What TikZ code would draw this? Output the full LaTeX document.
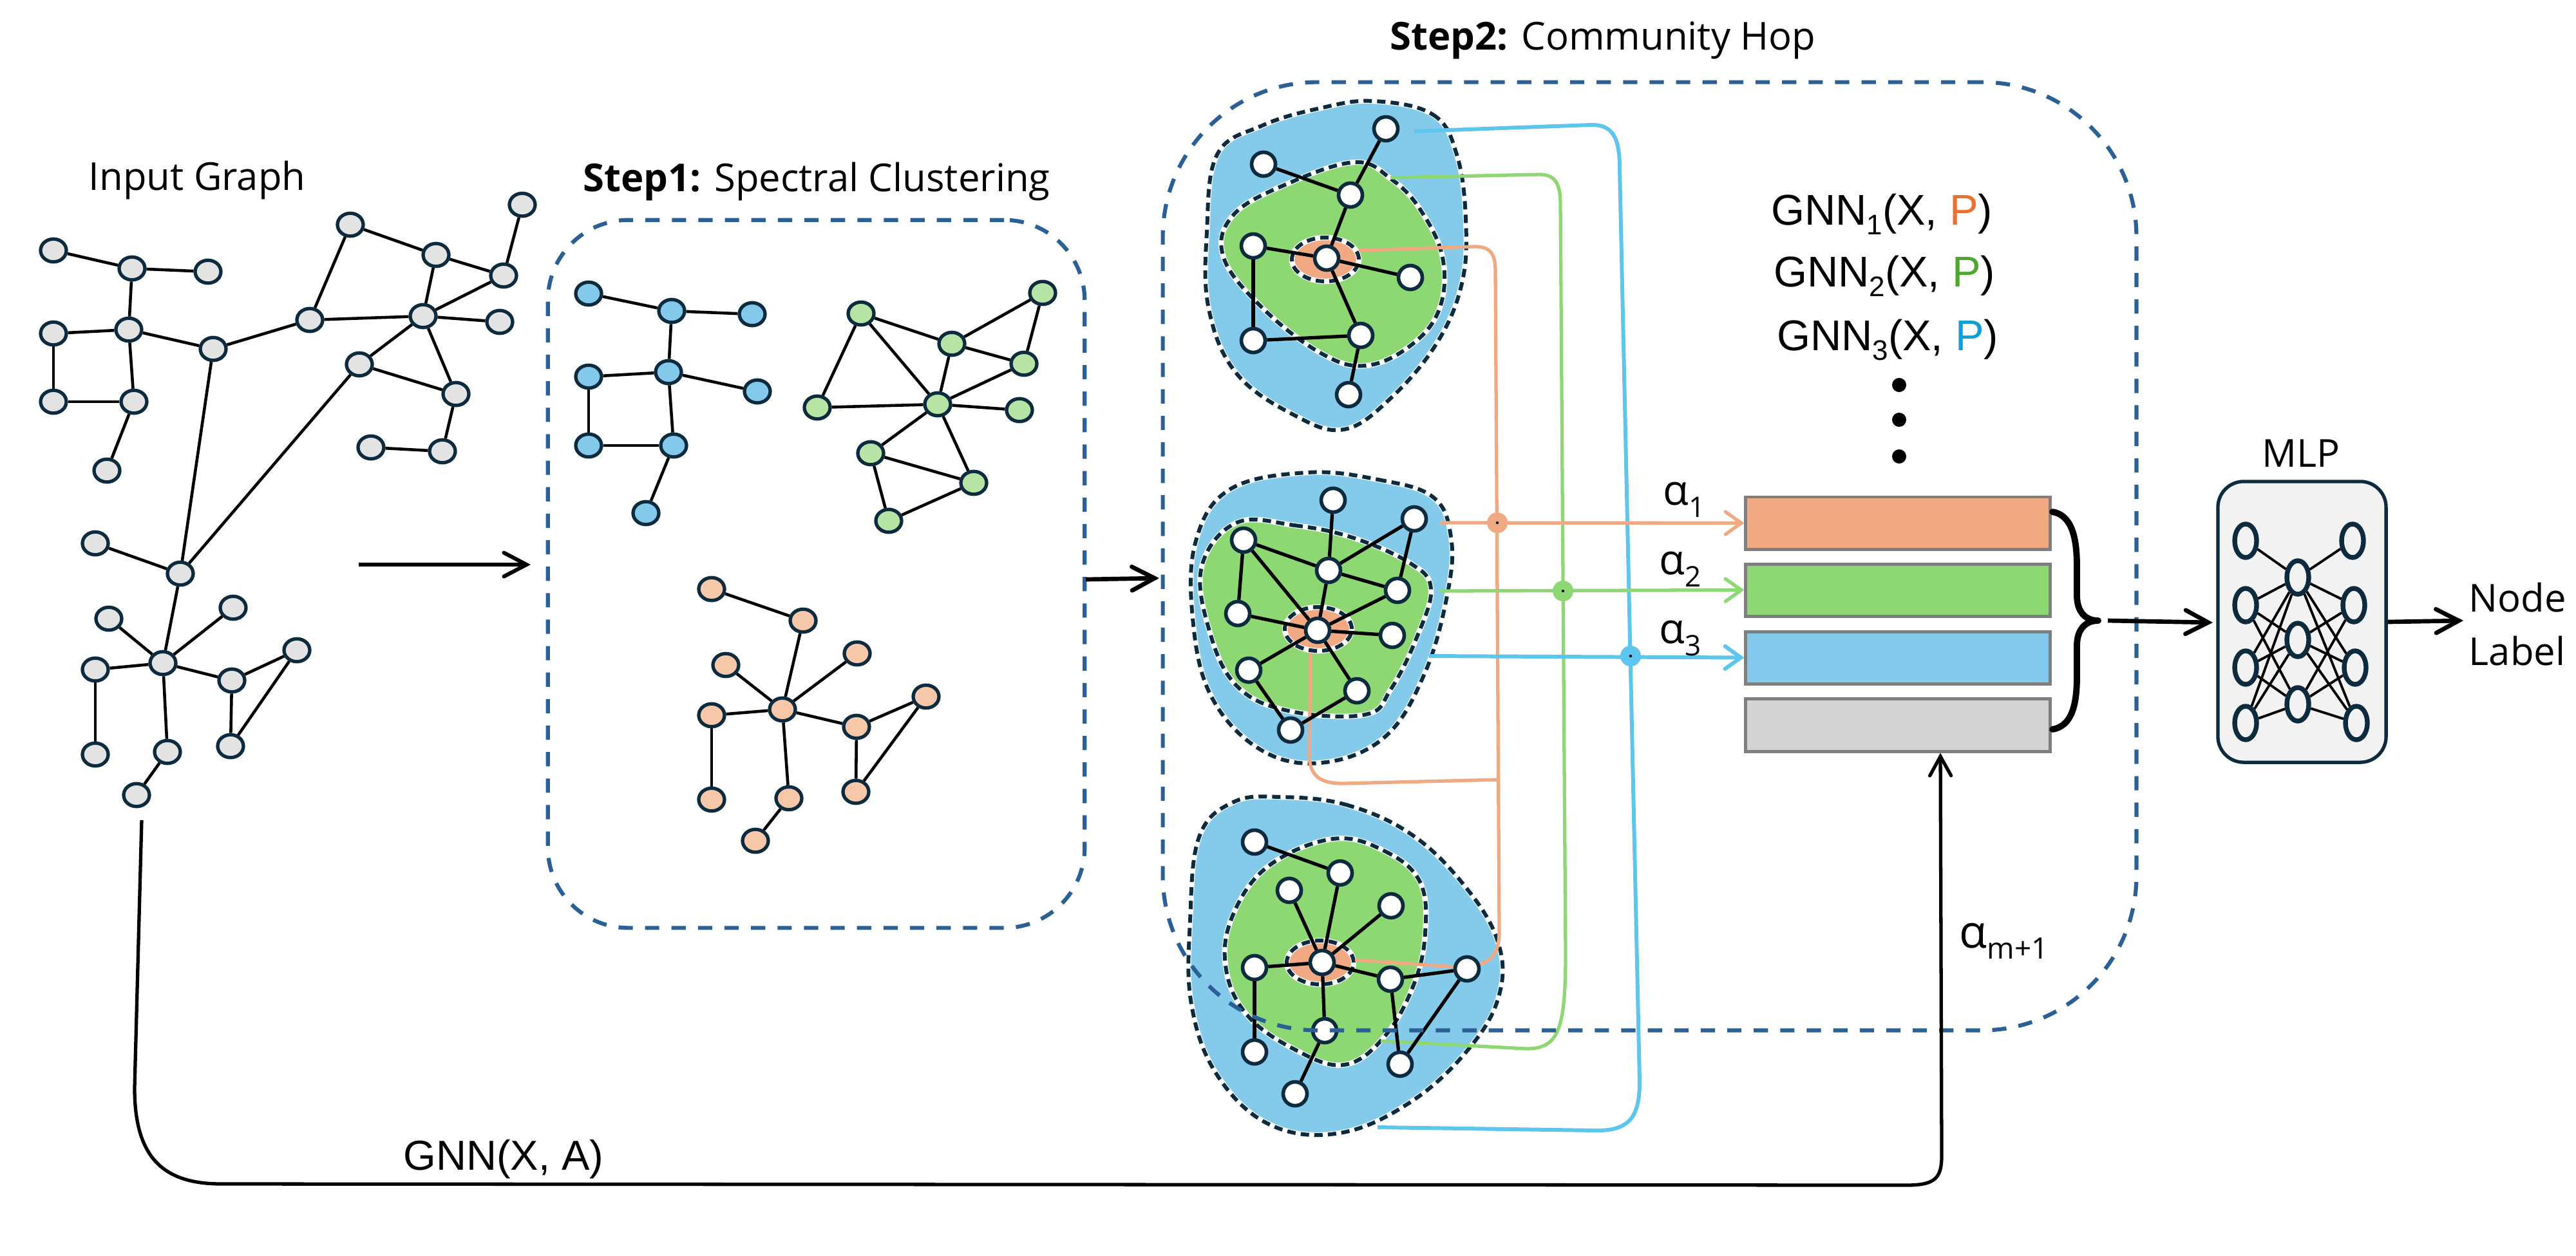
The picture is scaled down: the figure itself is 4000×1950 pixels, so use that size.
\documentclass[tikz,border=0pt]{standalone}
\usepackage{fontspec}
\setmainfont{Open Sans}
\newfontfamily\arialf{Liberation Sans}
\usetikzlibrary{arrows.meta,shapes.geometric}
\definecolor{navy}{HTML}{0D2B3E}
\definecolor{boxblue}{HTML}{2A6096}
\definecolor{ingray}{HTML}{E3E3E3}
\definecolor{sblue}{HTML}{83C9EC}
\definecolor{sgreen}{HTML}{B7E4A4}
\definecolor{sorange}{HTML}{F6C7A8}
\definecolor{bblue}{HTML}{84CAEA}
\definecolor{bgreen}{HTML}{8ED873}
\definecolor{borange}{HTML}{F1A983}
\definecolor{cblue}{HTML}{5EC5EF}
\definecolor{fgray}{HTML}{D3D3D3}
\definecolor{fborder}{HTML}{7F7F7F}
\definecolor{mlpgray}{HTML}{F2F2F2}
\definecolor{porange}{HTML}{E97132}
\definecolor{pgreen}{HTML}{4EA72E}
\definecolor{pblue}{HTML}{0F9ED5}
\begin{document}
\begin{tikzpicture}[x=0.01cm,y=-0.01cm,
  gnode/.style={ellipse, draw=navy, line width=1.5pt, fill=ingray, minimum width=0.40cm, minimum height=0.355cm, inner sep=0pt},
  snode/.style={gnode, fill=#1},
  gedge/.style={line width=1.3pt},
  wnode/.style={circle, draw=navy, fill=white, line width=1.6pt, minimum size=0.37cm, inner sep=0pt},
  bedge/.style={line width=1.5pt},
  dashbox/.style={rectangle, draw=boxblue, line width=1.75pt, dash pattern=on 6.3pt off 5.4pt, inner sep=0pt},
  blobfill/.style={fill=#1, postaction={draw=white, line width=2.4pt}, postaction={draw=navy, line width=1.7pt, dash pattern=on 3.7pt off 2.3pt}},
  conn/.style={line width=1.5pt, draw=#1, line join=round},
  carr/.style={conn=#1, -{Straight Barb[length=7pt, width=10pt, line cap=round]}},
  barr/.style={line width=1.9pt, -{Straight Barb[length=10pt,width=10.5pt,line cap=round]}},
  fbox/.style={rectangle, draw=fborder, line width=1.42pt, minimum width=4.72cm, minimum height=0.81cm, inner sep=0pt, fill=#1},
  mlpnode/.style={ellipse, draw=navy, line width=2.1pt, fill=mlpgray, minimum width=0.34cm, minimum height=0.52cm, inner sep=0pt},
  jdot/.style={circle, fill=#1, minimum size=0.32cm, inner sep=0pt},
  lbl/.style={inner sep=0pt, font=\fontsize{17pt}{20pt}\selectfont},
  gnnl/.style={inner sep=0pt, font=\arialf\fontsize{19pt}{22pt}\selectfont}
]
\useasboundingbox (0,0) rectangle (4000,1950);
\fill[white] (0,0) rectangle (4000,1950);

% ---------------- Input graph ----------------
\node[lbl, anchor=base] (tin) at (306,295) {Input Graph};
\foreach \n/\x/\y in {n1/83/389, n2/205/417, n3/323/422, n4/83/518, n5/200/512, n6/331/542,
  n7/83/624, n8/208/624, n9/166/731, n10/544/349, n11/677/396, n12/811/318, n13/782/428,
  n14/481/497, n15/657/491, n16/776/500, n17/558/566, n18/708/612, n19/576/695, n20/687/701,
  n21/148/844, n22/280/891, n23/169/961, n24/362/944, n25/148/1040, n26/253/1030,
  n27/360/1057, n28/461/1010, n29/148/1172, n30/260/1168, n31/358/1159, n32/212/1235}
  \node[gnode] (\n) at (\x,\y) {};
\foreach \a/\b in {n1/n2, n2/n3, n2/n5, n4/n5, n4/n7, n7/n8, n5/n8, n8/n9, n5/n6, n6/n14,
  n6/n22, n14/n10, n10/n11, n11/n13, n12/n13, n11/n15, n13/n15, n14/n15, n15/n16, n15/n17,
  n15/n18, n17/n18, n18/n20, n19/n20, n17/n22, n21/n22, n22/n26, n23/n26, n24/n26, n25/n26,
  n26/n27, n27/n28, n28/n31, n27/n31, n25/n29, n26/n30, n30/n32}
  \draw[gedge] (\a) -- (\b);
\coordinate (ia1) at (557,877);
\coordinate (ia2) at (824,877);
\draw[barr, line width=1.7pt] (ia1) -- (ia2);

% ---------------- Step 1 ----------------
\node[lbl, anchor=base] (ts1) at (1268,297) {\textbf{Step1:} Spectral Clustering};
\node[dashbox, rounded corners=1.25cm, minimum width=8.33cm, minimum height=10.99cm] (s1) at (1267.5,891.5) {};
\foreach \n/\x/\y in {b1/914/456, b2/1043/483, b3/1168/488, b4/914/585, b5/1038/578,
  b6/1176/608, b7/914/692, b8/1046/692, b9/1003/797}
  \node[snode=sblue] (\n) at (\x,\y) {};
\foreach \n/\x/\y in {g1/1337/487, g2/1478/534, g3/1619/455, g4/1590/565, g5/1269/633,
  g6/1456/628, g7/1583/637, g8/1352/704, g9/1512/750, g10/1380/809}
  \node[snode=sgreen] (\n) at (\x,\y) {};
\foreach \n/\x/\y in {o1/1105/915, o2/1247/964, o3/1127/1033, o4/1331/1015, o5/1105/1111,
  o6/1215/1102, o7/1438/1082, o8/1330/1129, o9/1105/1242, o10/1225/1240, o11/1329/1230,
  o12/1173/1306}
  \node[snode=sorange] (\n) at (\x,\y) {};
\foreach \a/\b in {b1/b2, b2/b3, b2/b5, b4/b5, b5/b6, b4/b7, b7/b8, b5/b8, b8/b9,
  g1/g2, g1/g5, g1/g6, g2/g3, g2/g4, g3/g4, g2/g6, g4/g6, g5/g6, g6/g7, g6/g8, g6/g9,
  g8/g9, g8/g10, g10/g9,
  o1/o2, o2/o6, o3/o6, o4/o6, o5/o6, o6/o8, o8/o7, o7/o11, o8/o11, o5/o9, o6/o10, o10/o12}
  \draw[gedge] (\a) -- (\b);
\coordinate (a12s) at (1686,900);
\coordinate (a12e) at (1800,898);
\draw[barr] (a12s) -- (a12e);

% ---------------- Step 2: communities ----------------
\node[lbl, anchor=base] (ts2) at (2489,77) {\textbf{Step2:} Community Hop};
% top
\path[blobfill=bblue] plot[smooth cycle, tension=0.65] coordinates {(2133,157) (2225,178) (2262,240) (2276,340) (2270,440) (2231,533) (2160,618) (2087,667) (2010,645) (1920,580) (1877,480) (1874,360) (1890,240) (1960,195) (2050,168)};
\path[blobfill=bgreen] plot[smooth cycle, tension=0.65] coordinates {(2104,252) (2160,278) (2205,325) (2240,400) (2235,480) (2190,537) (2120,568) (2050,548) (1961,479) (1900,400) (1915,334) (2000,285)};
\path[blobfill=borange] (2058,403) ellipse [x radius=0.52cm, y radius=0.34cm];
% middle
\path[blobfill=bblue] plot[smooth cycle, tension=0.65] coordinates {(2030,734) (2140,745) (2225,772) (2253,834) (2248,920) (2213,1044) (2150,1145) (2050,1185) (1955,1163) (1880,1080) (1852,960) (1857,840) (1910,760)};
\path[blobfill=bgreen] plot[smooth cycle, tension=0.65] coordinates {(1920,812) (2010,816) (2100,835) (2190,875) (2222,915) (2200,990) (2160,1070) (2120,1110) (2000,1104) (1920,1065) (1878,980) (1866,880)};
\path[blobfill=borange] (2047,977) ellipse [x radius=0.52cm, y radius=0.34cm];
% bottom
\path[blobfill=bblue] plot[smooth cycle, tension=0.65] coordinates {(1989,1238) (2090,1250) (2190,1295) (2271,1372) (2325,1460) (2328,1545) (2280,1630) (2190,1712) (2080,1760) (1972,1747) (1890,1670) (1850,1560) (1848,1430) (1862,1300) (1915,1246)};
\path[blobfill=bgreen] plot[smooth cycle, tension=0.65] coordinates {(2070,1303) (2150,1322) (2205,1370) (2213,1450) (2195,1530) (2150,1610) (2087,1654) (2010,1630) (1935,1575) (1903,1500) (1915,1420) (1970,1345)};
\path[blobfill=borange] (2050,1495) ellipse [x radius=0.52cm, y radius=0.34cm];

% connectors
\coordinate (cbT) at (2196,204);
\coordinate (cgT) at (2159,276);
\coordinate (coT) at (2110,389);
\coordinate (coM) at (2035,1014);
\coordinate (cbB) at (2139,1751);
\coordinate (cgB) at (2144,1617);
\coordinate (coB) at (2104,1491);
\draw[conn=cblue, line width=1.7pt] (cbT) -- (2470,194) .. controls (2505,193) and (2515,215) .. (2515,262) -- (2546,1680) .. controls (2546,1735) and (2530,1756) .. (2480,1756) -- (cbB);
\draw[conn=bgreen] (cgT) -- (2390,271) .. controls (2415,271) and (2423,285) .. (2423,318) -- (2431,1480) .. controls (2431,1600) and (2420,1629) .. (2370,1629) -- (cgB);
\draw[conn=borange] (coT) -- (2290,383) .. controls (2315,383) and (2322,395) .. (2322,422) -- (2328,1445) .. controls (2328,1490) and (2310,1502) .. (2259,1502) -- (coB);
\draw[conn=borange] (coM) -- (2033,1172) .. controls (2033,1205) and (2050,1217) .. (2085,1217) -- (2328,1211);

% ---------------- right part: feature boxes ----------------
\node[fbox=borange] (f1) at (2947,812.5) {};
\node[fbox=bgreen] (f2) at (2947,916.5) {};
\node[fbox=sblue] (f3) at (2947,1021.5) {};
\node[fbox=fgray, minimum height=0.82cm] (f4) at (2947,1126) {};

\coordinate (haO) at (2235,812);
\coordinate (haG) at (2236,918);
\coordinate (haB) at (2219,1019);
\draw[carr=borange] (haO) -- (f1.west);
\draw[carr=bgreen] (haG) -- (f2.west);
\draw[carr=cblue, line width=1.7pt] (haB) -- (f3.west);
\node[jdot=borange] (jo) at (2325,812) {};
\node[jdot=bgreen] (jg) at (2427,918) {};
\node[jdot=cblue] (jb) at (2532,1019) {};
\foreach \d in {jo,jg,jb} \fill[black] (\d) circle[radius=0.022cm];

% white nodes of the communities
\foreach \n/\x/\y in {t1/2152/200, t2/1962/255, t3/2097/303, t4/1946/382, t5/2060/401,
  t6/2190/431, t7/1946/529, t8/2113/521, t9/2094/613,
  m1/2070/777, m2/2196/806, m3/1931/839, m4/2063/886, m5/2170/917, m6/1922/953,
  m7/2046/979, m8/2162/987, m9/1939/1041, m10/2107/1073, m11/2004/1134,
  c1/1948/1308, c2/2081/1356, c3/2002/1383, c4/2160/1407, c5/1948/1503, c6/2053/1495,
  c7/2159/1521, c8/2278/1505, c9/2057/1601, c10/1948/1634, c11/2174/1653, c12/2011/1699}
  \node[wnode] (\n) at (\x,\y) {};
\foreach \a/\b in {t1/t3, t2/t3, t3/t5, t4/t5, t5/t6, t5/t8, t4/t7, t7/t8, t8/t9,
  m1/m4, m2/m4, m2/m5, m3/m4, m3/m6, m3/m7, m4/m5, m4/m7, m6/m7, m5/m7, m7/m8, m7/m9,
  m7/m10, m9/m11, m10/m11,
  c1/c2, c2/c6, c3/c6, c4/c6, c5/c6, c6/c7, c6/c9, c5/c10, c7/c8, c7/c11, c8/c11, c9/c12}
  \draw[bedge] (\a) -- (\b);

% alpha labels
\node[lbl, font=\fontsize{18.5pt}{20pt}\selectfont, anchor=base west] (al1) at (2582,784) {α\raisebox{-5.5pt}{\fontsize{12.5pt}{13pt}\selectfont 1}};
\node[lbl, font=\fontsize{18.5pt}{20pt}\selectfont, anchor=base west] (al2) at (2576,892) {α\raisebox{-5.5pt}{\fontsize{12.5pt}{13pt}\selectfont 2}};
\node[lbl, font=\fontsize{18.5pt}{20pt}\selectfont, anchor=base west] (al3) at (2576,999) {α\raisebox{-5.5pt}{\fontsize{12.5pt}{13pt}\selectfont 3}};
\node[lbl, font=\fontsize{20pt}{22pt}\selectfont, anchor=base west] (alm) at (3042,1472) {α\raisebox{-5pt}{\fontsize{13pt}{14pt}\selectfont m+1}};

% Step 2 box (drawn over the bottom community)
\node[dashbox, rounded corners=2.4cm, minimum width=15.11cm, minimum height=14.72cm] (s2) at (2561.5,864) {};

% GNN texts
\node[gnnl, anchor=base] (gn1) at (2922,349) {GNN\raisebox{-4.5pt}{\fontsize{12.5pt}{13pt}\selectfont 1}(X, \textcolor{porange}{P})};
\node[gnnl, anchor=base] (gn2) at (2926,445) {GNN\raisebox{-4.5pt}{\fontsize{12.5pt}{13pt}\selectfont 2}(X, \textcolor{pgreen}{P})};
\node[gnnl, anchor=base] (gn3) at (2931,544) {GNN\raisebox{-4.5pt}{\fontsize{12.5pt}{13pt}\selectfont 3}(X, \textcolor{pblue}{P})};
\foreach \n/\y in {d1/598, d2/652, d3/709}
  \node[circle, fill=black, minimum size=0.22cm, inner sep=0pt] (\n) at (2949,\y) {};

% brace
\coordinate (brt) at (3258,964);
\draw[line width=2.8pt, line cap=round, line join=round] (3187,795) .. controls (3215,800) and (3225,830) .. (3225,880) -- (3225,925) .. controls (3225,950) and (3238,964) .. (brt) .. controls (3238,964) and (3225,978) .. (3225,1003) -- (3225,1050) .. controls (3225,1100) and (3215,1128) .. (3187,1133);

% MLP
\node[lbl, anchor=base] (tmlp) at (3573,725) {MLP};
\node[rectangle, rounded corners=0.4cm, draw=navy, fill=mlpgray, line width=1.5pt, minimum width=2.61cm, minimum height=4.36cm, inner sep=0pt] (mlp) at (3574.5,966) {};
\foreach \n/\x/\y in {L1/3487/840, L2/3487/940, L3/3487/1037, L4/3487/1123,
  M1/3568/897, M2/3568/994, M3/3568/1094,
  R1/3653/840, R2/3655/940, R3/3657/1037, R4/3659/1123}
  \node[mlpnode] (\n) at (\x,\y) {};
\foreach \a/\b in {L1/M1, M1/R1, L2/M1, L2/M2, L2/M3, L3/M1, L3/M2, L3/M3, L4/M1, L4/M2, L4/M3,
  M1/R2, M2/R2, M3/R2, M1/R3, M2/R3, M3/R3, M1/R4, M2/R4, M3/R4}
  \draw[line width=1.1pt] (\a) -- (\b);
\coordinate (brs) at (3273,964);
\coordinate (mlpin) at (3436,967);
\draw[barr] (brs) -- (mlpin);
\coordinate (nlin) at (3825,964);
\draw[barr] (mlp.east) -- (nlin);
\node[lbl, anchor=base west] (nl1) at (3833,950) {Node};
\node[lbl, anchor=base west] (nl2) at (3833,1033) {Label};

% bottom skip connection
\node[gnnl, font=\arialf\fontsize{18.5pt}{22pt}\selectfont, anchor=base] (gxa) at (782,1817) {GNN(X, A)};
\coordinate (bl0) at (220,1274);
\coordinate (upx) at (3013,1760);
\draw[line width=1.5pt, -{Straight Barb[length=8.5pt,width=9.4pt,line cap=round]}] (bl0) -- (209,1690) .. controls (209,1800) and (255,1839) .. (344,1839) -- (2960,1841) .. controls (3005,1841) and (3015,1830) .. (3015,1795) -- (upx |- f4.south);
\end{tikzpicture}
\end{document}
